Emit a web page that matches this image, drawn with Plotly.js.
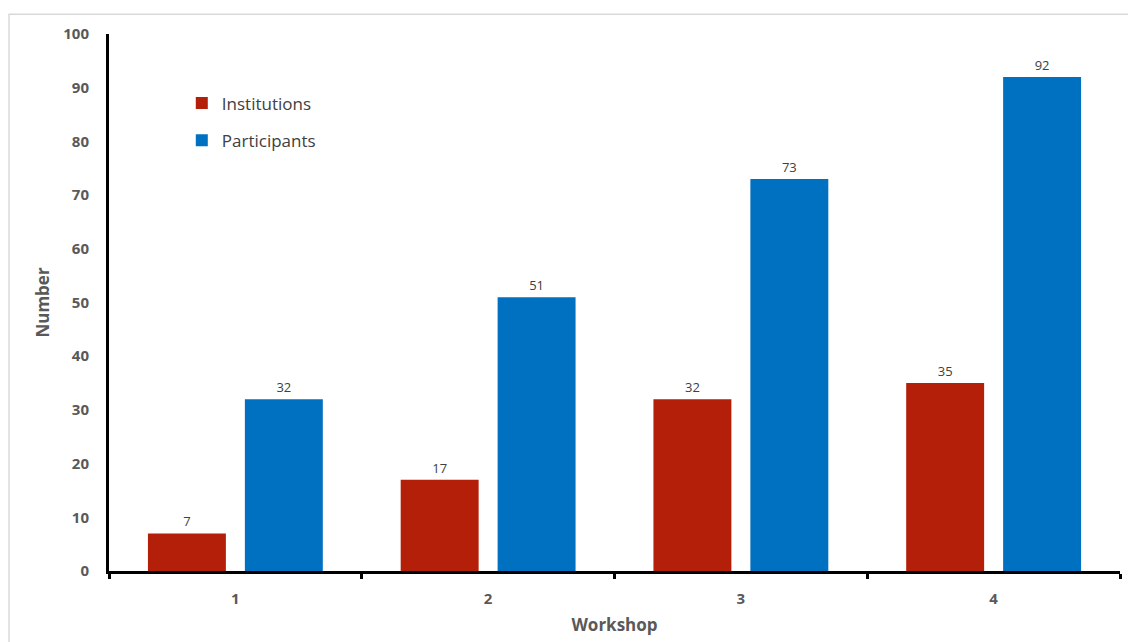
<!DOCTYPE html>
<html><head><meta charset="utf-8">
<script src="https://cdn.plot.ly/plotly-3.0.1.min.js"></script>
<style>html,body{margin:0;padding:0;background:#fff;}#chart{width:1128px;height:642px;}</style>
</head><body><div id="chart"></div>
<script>
const workshops = ['1', '2', '3', '4'];
const institutions = [7, 17, 32, 35];
const participants = [32, 51, 73, 92];
const seriesNames = ['Institutions', 'Participants'];

const FONT = 'Open Sans, Calibri, sans-serif';
const labelFont = {family: FONT, size: 13, color: '#404040'};
const traces = [
  {type: 'bar', name: seriesNames[0], legendgroup: 'a', x: workshops, y: institutions, marker: {color: '#B31F08'},
   text: institutions.map(String), textposition: 'outside', textfont: labelFont, cliponaxis: false},
  {type: 'bar', name: seriesNames[1], legendgroup: 'b', x: workshops, y: participants, marker: {color: '#0070C0'},
   text: participants.map(String), textposition: 'outside', textfont: labelFont, cliponaxis: false}
];
const tickFont = {family: FONT, size: 15, color: '#595959', weight: 'bold'};
const layout = {
  width: 1128, height: 642,
  margin: {l: 109, r: 8, t: 34, b: 71},
  paper_bgcolor: '#fff', plot_bgcolor: '#fff',
  bargap: 0.233, bargroupgap: 0.196,
  showlegend: true,
  legend: {x: 0.072, y: 0.904, xanchor: 'left', yanchor: 'top', font: {family: FONT, size: 17, color: '#404040'}, tracegroupgap: 12, itemwidth: 30, bgcolor: 'rgba(0,0,0,0)'},
  xaxis: {type: 'category', showline: true, linecolor: '#000', linewidth: 3, ticks: 'outside', tickson: 'boundaries', ticklen: 5, tickwidth: 3, tickcolor: '#000',
    ticklabelstandoff: 12, tickfont: tickFont, showgrid: false, zeroline: false,
    title: {text: 'Workshop', font: {family: FONT, size: 17, color: '#595959', weight: 'bold'}, standoff: 13}},
  yaxis: {range: [0, 100], dtick: 10, showline: true, linecolor: '#000', linewidth: 3, ticks: 'outside', ticklen: 14, tickcolor: 'rgba(0,0,0,0)',
    tickfont: tickFont, showgrid: false, zeroline: false,
    title: {text: 'Number', font: {family: FONT, size: 17, color: '#595959', weight: 'bold'}, standoff: 10}},
  shapes: [{type: 'path', xref: 'paper', yref: 'paper', path: 'M -0.0989 -0.3 L -0.0989 1.037 L 1.05 1.037', line: {color: '#D9D9D9', width: 1.5}}]
};
Plotly.newPlot('chart', traces, layout, {displayModeBar: false, staticPlot: true});
</script></body></html>
